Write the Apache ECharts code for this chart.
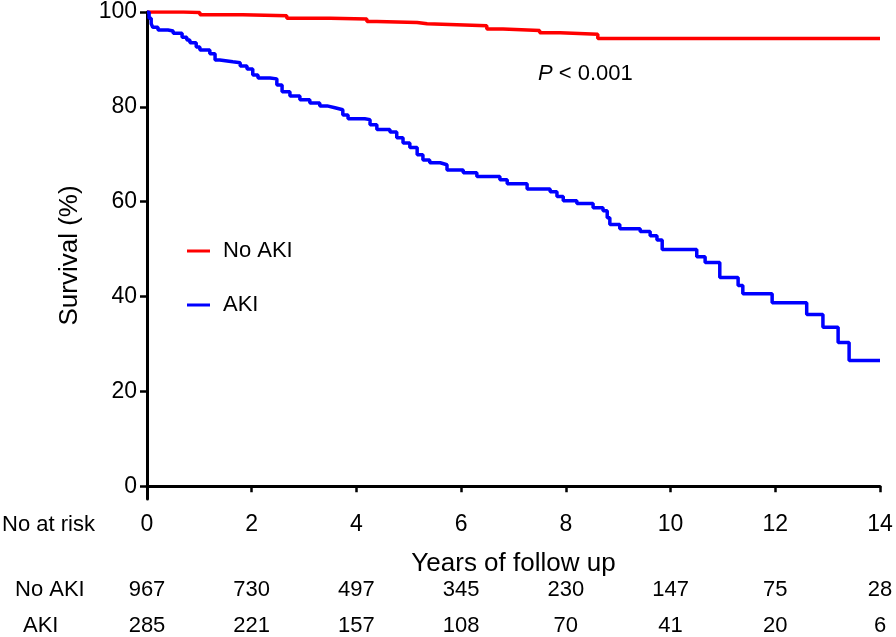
<!DOCTYPE html>
<html>
<head>
<meta charset="utf-8">
<script src="https://cdn.jsdelivr.net/npm/echarts@6/dist/echarts.min.js"></script>
<style>
  html, body, #main { width: 100%; height: 100%; margin: 0; background: #fff; }
</style>
</head>
<body>
<div id="main"></div>
<script>
// Kaplan-Meier steps (years, survival %)
var noAkiTime = [0, 0.7, 1.01, 1.83, 2.67, 3.5, 4.2, 4.39, 5.16, 5.35, 6.49, 6.8, 7.5, 7.89, 8.61, 14]
var noAkiSurv = [100, 99.9, 99.4, 99.2, 98.7, 98.5, 98.0, 97.8, 97.5, 97.1, 96.4, 96.1, 95.6, 95.3, 94.4, 94.4]

var akiTime = [0, 0.04, 0.08, 0.11, 0.21, 0.40, 0.50, 0.67, 0.76, 0.82, 0.94, 1.01, 1.20, 1.30, 1.39, 1.64,
  1.78, 1.91, 2.02, 2.12, 2.35, 2.48, 2.58, 2.73, 2.92, 3.11, 3.30, 3.44, 3.59, 3.74, 3.84, 4.16, 4.26,
  4.39, 4.64, 4.77, 4.89, 5.02, 5.16, 5.27, 5.40, 5.60, 5.73, 6.04, 6.30, 6.74, 6.88, 7.26, 7.70, 7.83,
  7.95, 8.21, 8.52, 8.71, 8.79, 8.84, 9.03, 9.42, 9.61, 9.74, 9.84, 10.50, 10.66, 10.94, 11.29, 11.38,
  11.94, 12.60, 12.91, 13.20, 13.41, 14]
var akiSurv = [100, 98.7, 97.5, 96.8, 96.2, 96.0, 95.5, 94.7, 94.1, 93.5, 92.6, 92.0, 91.2, 89.9, 89.5, 89.3,
  88.6, 88.0, 86.7, 86.1, 85.9, 84.6, 83.2, 82.3, 81.5, 80.8, 80.2, 79.8, 79.4, 78.3, 77.5, 77.3, 76.2,
  75.2, 74.7, 73.5, 72.4, 71.4, 69.9, 68.8, 68.2, 67.8, 66.7, 66.1, 65.3, 64.6, 63.8, 62.7, 62.1, 61.1,
  60.2, 59.6, 58.7, 58.1, 56.6, 55.2, 54.3, 53.7, 52.8, 51.9, 49.9, 48.4, 47.2, 44.0, 42.3, 40.6,
  38.7, 36.2, 33.5, 30.3, 26.5, 26.5]

// number at risk table
var riskYears = [0, 2, 4, 6, 8, 10, 12, 14]
var noAkiRisk = [967, 730, 497, 345, 230, 147, 75, 28]
var akiRisk = [285, 221, 157, 108, 70, 41, 20, 6]

var yTicks = [0, 20, 40, 60, 80, 100]

var FONT = 'Arial, "Liberation Sans", sans-serif'

function zip(xs, ys) {
  return xs.map(function (x, i) { return [x, ys[i]] })
}

function riskAxis(counts, offset) {
  return {
    type: 'value', min: 0, max: 14, interval: 2, position: 'bottom', offset: offset,
    axisLine: { show: false }, axisTick: { show: false }, splitLine: { show: false },
    axisLabel: {
      margin: 0, fontSize: 22, color: '#000', fontFamily: FONT,
      formatter: function (v) { return counts[riskYears.indexOf(v)] }
    }
  }
}

var chart = echarts.init(document.getElementById('main'), null, { renderer: 'canvas' })

chart.setOption({
  animation: false,
  backgroundColor: '#fff',
  textStyle: { fontFamily: FONT },
  grid: { left: 147, right: 16, top: 12, bottom: 138, containLabel: false, outerBoundsMode: 'none' },
  legend: {
    data: ['No AKI', 'AKI'],
    orient: 'vertical', left: 187, top: 240, padding: 0,
    icon: 'rect', itemWidth: 23, itemHeight: 3, itemGap: 32,
    textStyle: { fontSize: 22, color: '#000', fontFamily: FONT, padding: [0, 0, 0, 8] }
  },
  xAxis: [{
    type: 'value', min: 0, max: 14, interval: 2,
    name: 'Years of follow up', nameLocation: 'middle', nameGap: 52,
    nameTextStyle: { fontSize: 26, color: '#000', fontFamily: FONT },
    axisLine: { lineStyle: { color: '#000', width: 3 } },
    axisTick: { length: 6, lineStyle: { color: '#000', width: 2.5 } },
    axisLabel: { fontSize: 23, color: '#000', margin: 14, fontFamily: FONT },
    splitLine: { show: false }
  }, riskAxis(noAkiRisk, 80), riskAxis(akiRisk, 116)],
  yAxis: {
    type: 'value', min: -2.7, max: 100,
    name: 'Survival (%)', nameLocation: 'middle', nameGap: 64,
    nameTextStyle: { fontSize: 26, color: '#000', fontFamily: FONT },
    axisLine: { lineStyle: { color: '#000', width: 3 } },
    axisTick: { length: 7, customValues: yTicks, lineStyle: { color: '#000', width: 2.5 } },
    axisLabel: { fontSize: 23, color: '#000', margin: 10, customValues: yTicks, fontFamily: FONT },
    splitLine: { show: false }
  },
  graphic: [
    { type: 'text', left: 538, top: 63, style: { text: '{i|P} < 0.001', font: '22px ' + FONT, fill: '#000',
      rich: { i: { fontStyle: 'italic', fontSize: 22, fontFamily: FONT } } } },
    { type: 'text', left: 2, top: 514, style: { text: 'No at risk', font: '22px ' + FONT, fill: '#000' } },
    { type: 'text', left: 15, top: 579, style: { text: 'No AKI', font: '22px ' + FONT, fill: '#000' } },
    { type: 'text', left: 23, top: 615, style: { text: 'AKI', font: '22px ' + FONT, fill: '#000' } }
  ],
  series: [{
    name: 'No AKI', type: 'line', step: 'end', symbol: 'none',
    data: zip(noAkiTime, noAkiSurv),
    itemStyle: { color: '#ff0000' },
    lineStyle: { color: '#ff0000', width: 3.5 }
  }, {
    name: 'AKI', type: 'line', step: 'end', symbol: 'none',
    data: zip(akiTime, akiSurv),
    itemStyle: { color: '#0000ff' },
    lineStyle: { color: '#0000ff', width: 3.5 }
  }]
})
</script>
</body>
</html>
